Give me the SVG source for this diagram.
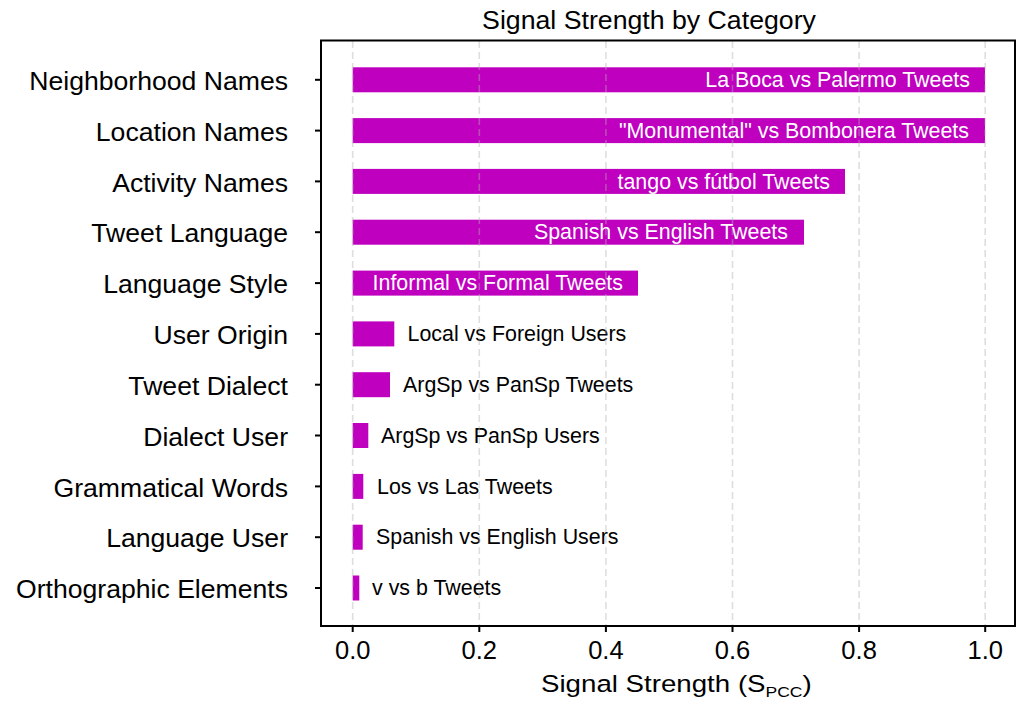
<svg xmlns="http://www.w3.org/2000/svg" width="1019" height="706" viewBox="0 0 1019 706">
<style>
text{font-family:"Liberation Sans",Arial,Helvetica,sans-serif;fill:#000}
.title{font-size:26.7px;text-anchor:middle}
.ylab{font-size:26.6px;text-anchor:end}
.xtick{font-size:25.5px;text-anchor:middle}
.xlab{font-size:24.5px}
.in{font-size:21.4px;text-anchor:end;fill:#fff}
.out{font-size:21.4px;text-anchor:start}
.bar{fill:#bf00bf}
.grid{stroke:#b0b0b0;stroke-opacity:0.42;stroke-width:1.6;stroke-dasharray:7,4;fill:none}
.tick{stroke:#000;stroke-width:2}
.frame{fill:none;stroke:#000;stroke-width:2}
</style>
<rect width="1019" height="706" fill="#fff"/>
<text class="title" x="649" y="29">Signal Strength by Category</text>

<g id="bars">
<g id="n1"><rect class="bar" x="352.7" y="67.3" width="632.3" height="25"/><text class="in" x="970" y="87">La Boca vs Palermo Tweets</text><text class="ylab" x="288" y="90">Neighborhood Names</text></g>
<g id="n2"><rect class="bar" x="352.7" y="118.1" width="632.3" height="25"/><text class="in" x="969" y="137.8">"Monumental" vs Bombonera Tweets</text><text class="ylab" x="288" y="140.8">Location Names</text></g>
<g id="n3"><rect class="bar" x="352.7" y="168.9" width="492.3" height="25"/><text class="in" x="830" y="188.6">tango vs fútbol Tweets</text><text class="ylab" x="288" y="191.6">Activity Names</text></g>
<g id="n4"><rect class="bar" x="352.7" y="219.7" width="451.3" height="25"/><text class="in" x="788" y="239.4">Spanish vs English Tweets</text><text class="ylab" x="288" y="242.4">Tweet Language</text></g>
<g id="n5"><rect class="bar" x="352.7" y="270.6" width="285.3" height="25"/><text class="in" x="623" y="290.3">Informal vs Formal Tweets</text><text class="ylab" x="288" y="293.3">Language Style</text></g>
<g id="n6"><rect class="bar" x="352.7" y="321.4" width="41.6" height="25"/><text class="out" x="407.5" y="341.1">Local vs Foreign Users</text><text class="ylab" x="288" y="344.1">User Origin</text></g>
<g id="n7"><rect class="bar" x="352.7" y="372.2" width="37.3" height="25"/><text class="out" x="403" y="391.9">ArgSp vs PanSp Tweets</text><text class="ylab" x="288" y="394.9">Tweet Dialect</text></g>
<g id="n8"><rect class="bar" x="352.7" y="423" width="15.6" height="25"/><text class="out" x="381" y="442.7">ArgSp vs PanSp Users</text><text class="ylab" x="288" y="445.7">Dialect User</text></g>
<g id="n9"><rect class="bar" x="352.7" y="473.9" width="10.6" height="25"/><text class="out" x="377" y="493.6">Los vs Las Tweets</text><text class="ylab" x="288" y="496.6">Grammatical Words</text></g>
<g id="n10"><rect class="bar" x="352.7" y="524.7" width="10" height="25"/><text class="out" x="376" y="544.4">Spanish vs English Users</text><text class="ylab" x="288" y="547.4">Language User</text></g>
<g id="n11"><rect class="bar" x="352.7" y="575.5" width="6.6" height="25"/><text class="out" x="372" y="595.2">v vs b Tweets</text><text class="ylab" x="288" y="598.2">Orthographic Elements</text></g>
</g>

<g id="connectors">
<g id="grid">
<line class="grid" x1="352.7" y1="41" x2="352.7" y2="625"/>
<line class="grid" x1="479.3" y1="41" x2="479.3" y2="625"/>
<line class="grid" x1="605.9" y1="41" x2="605.9" y2="625"/>
<line class="grid" x1="732.5" y1="41" x2="732.5" y2="625"/>
<line class="grid" x1="859.1" y1="41" x2="859.1" y2="625"/>
<line class="grid" x1="985.2" y1="41" x2="985.2" y2="625"/>
</g>
<rect class="frame" x="321" y="40.5" width="694" height="585.5"/>
<g id="xticks">
<line class="tick" x1="352.7" y1="626" x2="352.7" y2="632"/>
<line class="tick" x1="479.3" y1="626" x2="479.3" y2="632"/>
<line class="tick" x1="605.9" y1="626" x2="605.9" y2="632"/>
<line class="tick" x1="732.5" y1="626" x2="732.5" y2="632"/>
<line class="tick" x1="859.1" y1="626" x2="859.1" y2="632"/>
<line class="tick" x1="985.2" y1="626" x2="985.2" y2="632"/>
</g>
<g id="yticks">
<line class="tick" x1="315" y1="79.8" x2="321" y2="79.8"/>
<line class="tick" x1="315" y1="130.6" x2="321" y2="130.6"/>
<line class="tick" x1="315" y1="181.4" x2="321" y2="181.4"/>
<line class="tick" x1="315" y1="232.2" x2="321" y2="232.2"/>
<line class="tick" x1="315" y1="283.1" x2="321" y2="283.1"/>
<line class="tick" x1="315" y1="333.9" x2="321" y2="333.9"/>
<line class="tick" x1="315" y1="384.7" x2="321" y2="384.7"/>
<line class="tick" x1="315" y1="435.5" x2="321" y2="435.5"/>
<line class="tick" x1="315" y1="486.4" x2="321" y2="486.4"/>
<line class="tick" x1="315" y1="537.2" x2="321" y2="537.2"/>
<line class="tick" x1="315" y1="588" x2="321" y2="588"/>
</g>
</g>

<g id="xaxis">
<text class="xtick" x="352.7" y="659">0.0</text>
<text class="xtick" x="479.3" y="659">0.2</text>
<text class="xtick" x="605.9" y="659">0.4</text>
<text class="xtick" x="732.5" y="659">0.6</text>
<text class="xtick" x="859.1" y="659">0.8</text>
<text class="xtick" x="985.2" y="659">1.0</text>
<text class="xlab" transform="translate(541,692) scale(1.13,1)" x="0" y="0">Signal Strength (S<tspan font-size="15.5" dy="5">PCC</tspan><tspan dy="-5">)</tspan></text>
</g>
</svg>
